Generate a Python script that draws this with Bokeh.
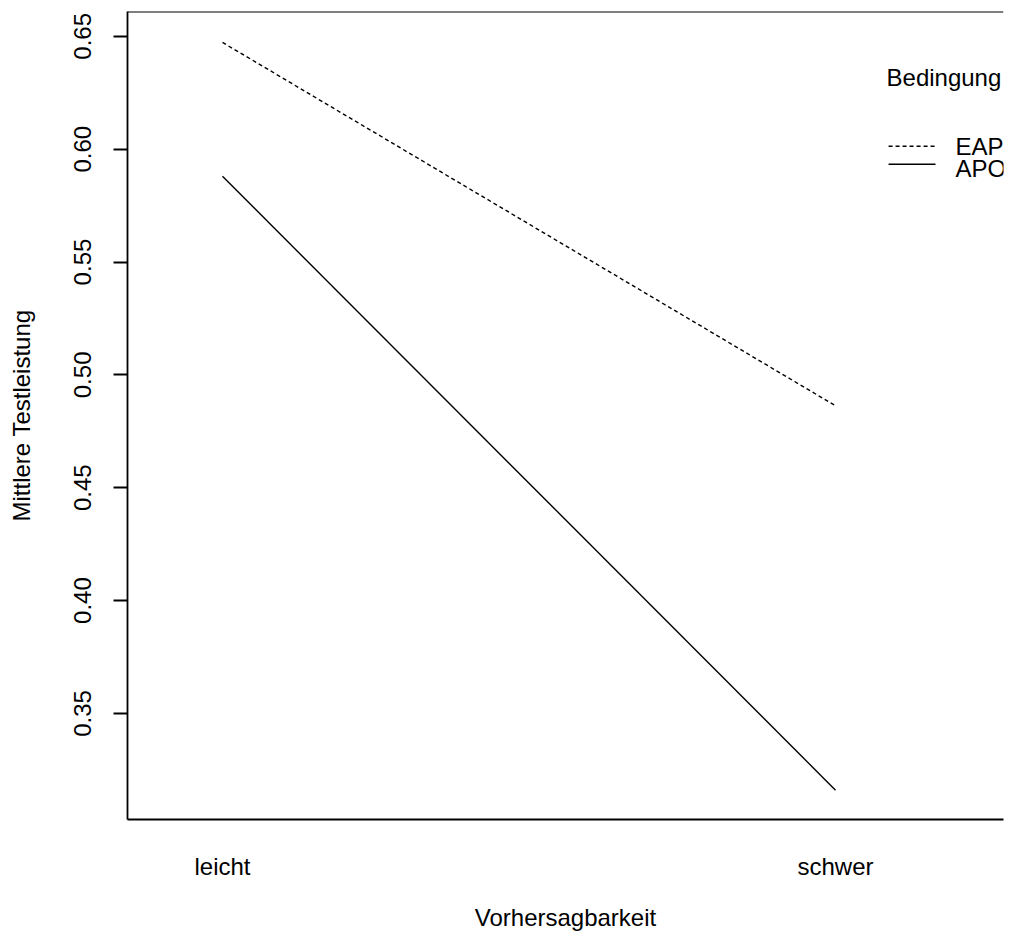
from bokeh.plotting import figure
from bokeh.models import Range1d, FixedTicker, Label, Span
from bokeh.embed import file_html
from bokeh.resources import INLINE

# ---- data ----
categories = ["leicht", "schwer"]          # Vorhersagbarkeit levels
groups = ["EAP", "APO"]                     # Bedingung
eap_means = [0.6473, 0.4863]
apo_means = [0.5880, 0.3160]
y_ticks = [0.35, 0.40, 0.45, 0.50, 0.55, 0.60, 0.65]

FONT = "Liberation Sans"
FS = "24px"
x_pos = [i + 1 for i in range(len(categories))]
Y_TOP = 0.661

p = figure(width=1009, height=933, output_backend="svg", toolbar_location=None,
           x_range=Range1d(0.845, 2.274), y_range=Range1d(0.303, Y_TOP),
           min_border_left=127, min_border_right=6, min_border_top=11,
           min_border_bottom=113)
p.grid.visible = False
p.outline_line_color = None
p.background_fill_color = "white"
p.border_fill_color = "white"

# y axis
ya = p.yaxis[0]
ya.ticker = FixedTicker(ticks=y_ticks)
ya.major_label_overrides = {t: f"{t:.2f}" for t in y_ticks}
ya.major_label_orientation = "vertical"
ya.major_tick_out = 14
ya.major_tick_in = 0
ya.minor_tick_out = 0
ya.minor_tick_in = 0
ya.major_label_standoff = 22
ya.major_label_text_font = FONT
ya.major_label_text_font_size = FS
ya.major_label_text_color = "black"
ya.axis_line_width = 1.8
ya.major_tick_line_width = 1.8
ya.axis_label = "Mittlere Testleistung"
ya.axis_label_text_font = FONT
ya.axis_label_text_font_size = FS
ya.axis_label_text_font_style = "normal"
ya.axis_label_text_color = "black"
ya.axis_label_standoff = 37

# x axis
xa = p.xaxis[0]
xa.ticker = FixedTicker(ticks=x_pos)
xa.major_label_overrides = {x: c for x, c in zip(x_pos, categories)}
xa.major_tick_out = 0
xa.major_tick_in = 0
xa.minor_tick_out = 0
xa.minor_tick_in = 0
xa.major_label_standoff = 33
xa.major_label_text_font = FONT
xa.major_label_text_font_size = FS
xa.major_label_text_color = "black"
xa.axis_line_width = 1.8
xa.axis_label = "Vorhersagbarkeit"
xa.axis_label_text_font = FONT
xa.axis_label_text_font_size = FS
xa.axis_label_text_font_style = "normal"
xa.axis_label_text_color = "black"
xa.axis_label_standoff = 21

# top edge of the box (the box runs past the right edge in the reference)
p.add_layout(Span(location=Y_TOP, dimension="width", line_color="black",
                  line_width=2.2))

# data lines
p.line(x_pos, eap_means, line_color="black", line_width=1.4, line_dash="4 3")
p.line(x_pos, apo_means, line_color="black", line_width=1.4)

# legend (manual, as in R's interaction.plot)
p.add_layout(Label(x=2.0832, y=0.6318, text="Bedingung", text_font=FONT,
                   text_font_size=FS, text_color="black", text_baseline="alphabetic"))
leg_y_line = [0.6013, 0.5933]
leg_y_text = [0.6010, 0.5913]
dashes = ["4 3", "solid"]
for g, yl, yt, d in zip(groups, leg_y_line, leg_y_text, dashes):
    p.segment(x0=[2.0865], y0=[yl], x1=[2.1631], y1=[yl],
              line_color="black", line_width=1.4, line_dash=d)
    p.add_layout(Label(x=2.1958, y=yt, text=g, text_font=FONT, text_font_size=FS,
                       text_color="black", text_baseline="alphabetic"))

open("out.html", "w").write(file_html(p, INLINE))
